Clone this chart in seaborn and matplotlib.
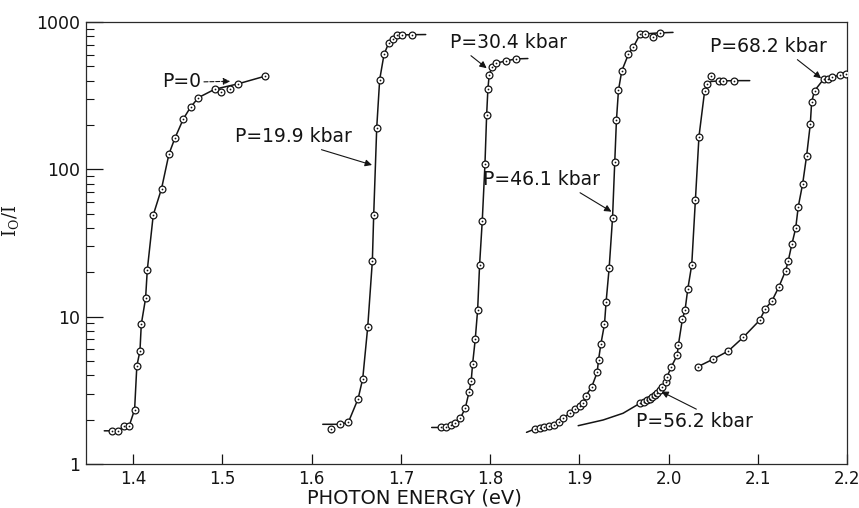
import matplotlib
matplotlib.use("Agg")
import matplotlib.pyplot as plt
import seaborn as sns
import pandas as pd
import numpy as np

# ---- absorption edge data: I0/I versus photon energy at several pressures ----
# measured points (open circles)
p0_x = [1.376, 1.383, 1.390, 1.3955, 1.4015, 1.404, 1.4075, 1.409, 1.4138, 1.4157,
        1.4224, 1.4317, 1.440, 1.4467, 1.4563, 1.4642, 1.4731, 1.4915, 1.4982, 1.5086,
        1.5172, 1.5478]
p0_y = [1.68, 1.68, 1.82, 1.82, 2.34, 4.63, 5.85, 8.9, 13.3, 20.7,
        49, 74, 127, 163, 221, 264, 307, 353, 337, 353,
        380, 429]

p199_x = [1.6213, 1.6314, 1.6411, 1.652, 1.6572, 1.6628, 1.668, 1.6695, 1.6729, 1.6762,
          1.6811, 1.6863, 1.6911, 1.696, 1.7016, 1.7124]
p199_y = [1.72, 1.86, 1.92, 2.77, 3.79, 8.5, 23.9, 49, 192, 406,
          604, 718, 771, 817, 817, 820]

p304_x = [1.7449, 1.7501, 1.7557, 1.7609, 1.7665, 1.7721, 1.7765, 1.7788, 1.7804, 1.7833,
          1.786, 1.7882, 1.7912, 1.7942, 1.7961, 1.7975, 1.799, 1.802, 1.8065, 1.818,
          1.8292]
p304_y = [1.77, 1.78, 1.83, 1.91, 2.04, 2.39, 3.1, 3.68, 4.8, 7.0,
          11.1, 22.5, 44.9, 108, 234, 350, 440, 493, 525, 545,
          562]

p461_x = [1.8502, 1.8554, 1.8606, 1.8662, 1.8714, 1.8767, 1.8822, 1.889, 1.8957, 1.9005,
          1.9042, 1.9073, 1.914, 1.920, 1.9215, 1.9241, 1.9282, 1.930, 1.9334, 1.9372,
          1.9397, 1.9416, 1.9439, 1.9476, 1.955, 1.9604, 1.9676, 1.9735, 1.9825, 1.9904]
p461_y = [1.73, 1.75, 1.77, 1.80, 1.85, 1.92, 2.04, 2.21, 2.35, 2.48,
          2.61, 2.9, 3.35, 4.19, 5.08, 6.5, 8.9, 12.6, 21.3, 46.6,
          112, 216, 346, 466, 604, 674, 826, 826, 796, 844]

p562_x = [1.9678, 1.9723, 1.976, 1.979, 1.982, 1.9846, 1.9871, 1.9902, 1.9932, 1.9966,
          1.9984, 2.0032, 2.0096, 2.011, 2.0155, 2.0185, 2.0215, 2.026, 2.0301, 2.0341,
          2.0405, 2.0428, 2.048, 2.0565, 2.061, 2.073]
p562_y = [2.58, 2.65, 2.72, 2.78, 2.86, 2.95, 3.05, 3.18, 3.35, 3.62,
          3.92, 4.58, 5.47, 6.43, 9.6, 11.1, 15.3, 22.5, 62, 167,
          342, 378, 433, 398, 398, 400]

p682_x = [2.033, 2.0498, 2.067, 2.0838, 2.1021, 2.1084, 2.1159, 2.1234, 2.1312, 2.1342,
          2.1382, 2.1425, 2.1454, 2.1503, 2.1548, 2.1589, 2.1604, 2.1637, 2.1738, 2.1787,
          2.1835, 2.1918, 2.1993]
p682_y = [4.58, 5.14, 5.85, 7.25, 9.45, 11.3, 12.8, 15.8, 20.5, 24,
          31, 39.8, 55.8, 79.6, 124, 203, 287, 342, 409, 412,
          422, 437, 446]

# hand-drawn smooth curves through the points
l0_x = [1.3675, 1.376, 1.383, 1.390, 1.3955, 1.4015, 1.404, 1.4075, 1.409, 1.4138, 1.4157,
        1.4224, 1.4317, 1.440, 1.4467, 1.4563, 1.4642, 1.4731, 1.4915, 1.5172, 1.5478]
l0_y = [1.68, 1.68, 1.68, 1.82, 1.82, 2.34, 4.63, 5.85, 8.9, 13.3, 20.7,
        49, 74, 127, 163, 221, 264, 307, 350, 380, 429]

l199_x = [1.6124, 1.6314, 1.6411, 1.652, 1.6572, 1.6628, 1.668, 1.6695, 1.6729, 1.6762,
          1.6811, 1.6863, 1.6911, 1.696, 1.7016, 1.7124, 1.7278]
l199_y = [1.86, 1.86, 1.92, 2.77, 3.79, 8.5, 23.9, 49, 192, 406,
          604, 718, 771, 817, 817, 820, 822]

l304_x = [1.7345] + p304_x + [1.8423]
l304_y = [1.77] + p304_y + [565]

l461_x = [1.8408, 1.8502, 1.8554, 1.8606, 1.8662, 1.8714, 1.8767, 1.8822, 1.889, 1.8957, 1.9005,
          1.9042, 1.9073, 1.914, 1.920, 1.9215, 1.9241, 1.9282, 1.930, 1.9334, 1.9372,
          1.9397, 1.9416, 1.9439, 1.9476, 1.955, 1.9604, 1.9676, 1.9735, 1.9825, 1.9904, 2.005]
l461_y = [1.64, 1.73, 1.75, 1.77, 1.80, 1.85, 1.92, 2.04, 2.21, 2.35, 2.48,
          2.61, 2.9, 3.35, 4.19, 5.08, 6.5, 8.9, 12.6, 21.3, 46.6,
          112, 216, 346, 466, 604, 674, 815, 830, 838, 844, 850]

l562_x = [1.8987, 1.9267, 1.949, 1.9678, 1.9723, 1.976, 1.979, 1.982, 1.9846, 1.9871, 1.9902,
          1.9932, 1.9966, 1.9984, 2.0032, 2.0096, 2.011, 2.0155, 2.0185, 2.0215, 2.026,
          2.0301, 2.0341, 2.0405, 2.0428, 2.048, 2.0565, 2.061, 2.073, 2.091]
l562_y = [1.82, 1.99, 2.21, 2.58, 2.65, 2.72, 2.78, 2.86, 2.95, 3.05, 3.18,
          3.35, 3.62, 3.92, 4.58, 5.47, 6.43, 9.6, 11.1, 15.3, 22.5,
          62, 167, 342, 378, 395, 398, 398, 400, 400]

l682_x = p682_x
l682_y = p682_y

markers = [(p0_x, p0_y), (p199_x, p199_y), (p304_x, p304_y),
           (p461_x, p461_y), (p562_x, p562_y), (p682_x, p682_y)]
curves = [(l0_x, l0_y), (l199_x, l199_y), (l304_x, l304_y),
          (l461_x, l461_y), (l562_x, l562_y), (l682_x, l682_y)]

# pressure labels: text, text position, arrow tip, arrow origin on the text box
labels = ["P=0", "P=19.9 kbar", "P=30.4 kbar", "P=46.1 kbar", "P=56.2 kbar", "P=68.2 kbar"]
label_xy = [(1.4537, 392), (1.5792, 166), (1.8211, 721), (1.858, 84.7), (2.0293, 1.93), (2.1122, 678)]
tip_xy = [(1.5086, 396), (1.6676, 107), (1.7961, 486), (1.936, 51.6), (1.992, 3.1), (2.171, 415)]
tail_rel = [(1.0, 0.5), (0.65, 0.0), (0.14, 0.0), (0.78, 0.0), (0.57, 1.0), (0.71, 0.0)]
arrow_ls = ["--", "-", "-", "-", "-", "-"]

x_ticks = [1.4, 1.5, 1.6, 1.7, 1.8, 1.9, 2.0, 2.1, 2.2]
x_tick_labels = ["1.4", "1.5", "1.6", "1.7", "1.8", "1.9", "2.0", "2.1", "2.2"]
y_ticks = [1, 10, 100, 1000]
y_tick_labels = ["1", "10", "100", "1000"]

# ---- figure ----
sns.set_style("ticks")
plt.rcParams["font.family"] = ["DejaVu Sans"]
plt.rcParams["mathtext.fontset"] = "dejavuserif"

ink = "#141414"
fig = plt.figure(figsize=(8.59, 5.08), dpi=100)
ax = fig.add_axes([0.1001, 0.0866, 0.8859, 0.8701])
ax.set_yscale("log")

for (lx, ly) in curves:
    sns.lineplot(x=lx, y=ly, ax=ax, color=ink, lw=1.1, sort=False, estimator=None)

for (mx, my) in markers:
    sns.scatterplot(x=mx, y=my, ax=ax, marker="o", s=24, facecolor="white",
                    edgecolor=ink, linewidth=0.9, zorder=3)
    sns.scatterplot(x=mx, y=my, ax=ax, marker="o", s=1.6, color=ink,
                    linewidth=0, zorder=4)

for txt, xy, tip, rel, ls in zip(labels, label_xy, tip_xy, tail_rel, arrow_ls):
    ax.annotate(txt, xy=tip, xytext=xy, ha="center", va="center",
                fontsize=13.5, color=ink,
                arrowprops=dict(arrowstyle="-|>", color=ink, lw=0.8, ls=ls,
                                mutation_scale=10, relpos=rel,
                                shrinkA=0, shrinkB=0))

ax.set_xlim(1.347, 2.2)
ax.set_ylim(1, 1000)
ax.set_xticks(x_ticks)
ax.set_xticklabels(x_tick_labels)
ax.set_yticks(y_ticks)
ax.set_yticklabels(y_tick_labels)
ax.yaxis.set_minor_locator(matplotlib.ticker.LogLocator(base=10, subs=np.arange(2, 10)))
ax.yaxis.set_minor_formatter(matplotlib.ticker.NullFormatter())
ax.xaxis.set_minor_locator(matplotlib.ticker.NullLocator())

ax.tick_params(axis="x", which="major", direction="in", length=7, width=0.9,
               labelsize=12, pad=4.5, colors=ink)
ax.tick_params(axis="y", which="major", direction="in", length=12, width=0.9,
               labelsize=12.5, pad=4, colors=ink)
ax.tick_params(axis="y", which="minor", direction="in", length=5.5, width=0.8, colors=ink)

for sp in ax.spines.values():
    sp.set_visible(True)
    sp.set_color("#2a2a2a")
    sp.set_linewidth(0.9)

ax.set_xlabel("PHOTON ENERGY (eV)", fontsize=14, color=ink, va="center")
ax.xaxis.set_label_coords(0.431, -0.077)
ax.set_ylabel(r"$\mathrm{I_O/I}$", fontsize=13, color=ink)
ax.yaxis.set_label_coords(-0.085, 0.55)

fig.savefig("out.png", dpi=100)
